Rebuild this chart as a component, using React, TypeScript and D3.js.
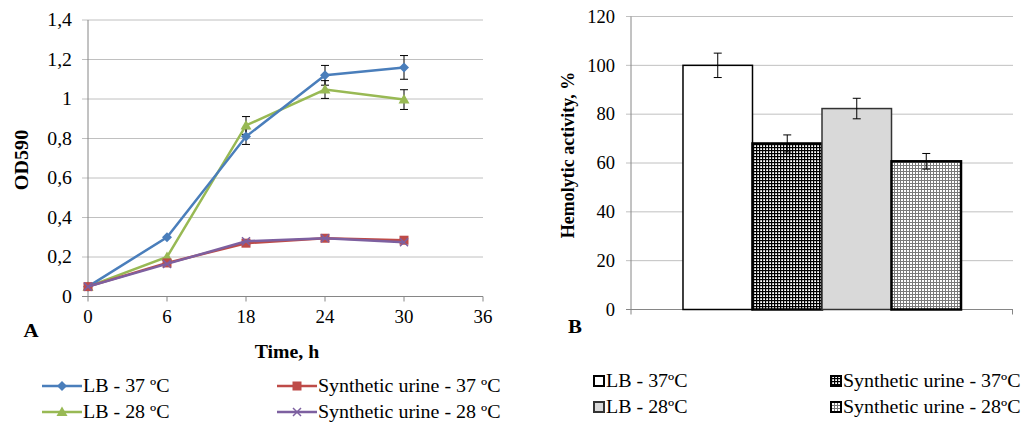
import React from 'react';
import * as d3 from 'd3';

// panel A - growth curves
const timeCats = ['0', '6', '18', '24', '30', '36'];
const odTicks = [0, 0.2, 0.4, 0.6, 0.8, 1, 1.2, 1.4];
const lb37 = [0.05, 0.3, 0.81, 1.12, 1.16];
const lb37Err = [0.01, 0.01, 0.04, 0.05, 0.06];
const lb28 = [0.05, 0.2, 0.866, 1.048, 0.997];
const lb28Err = [0.01, 0.01, 0.045, 0.045, 0.05];
const su37 = [0.05, 0.17, 0.27, 0.295, 0.285];
const su28 = [0.05, 0.165, 0.28, 0.295, 0.275];

// panel B - hemolytic activity
const barNames = ['LB - 37ºC', 'Synthetic urine - 37ºC', 'LB - 28ºC', 'Synthetic urine - 28ºC'];
const barValues = [100, 68, 82.3, 60.7];
const barErr = [5, 3.5, 4.2, 3.2];
const hemoTicks = [0, 20, 40, 60, 80, 100, 120];

const serif = '"Liberation Serif", "Times New Roman", serif';
const gridColor = '#c0c0c0';
const axisColor = '#868686';

const lineSeries = [
  { name: 'LB - 37 ºC', values: lb37, err: lb37Err, color: '#4a7ebb', marker: 'diamond' },
  { name: 'Synthetic urine - 37 ºC', values: su37, err: null, color: '#be4b48', marker: 'square' },
  { name: 'LB - 28 ºC', values: lb28, err: lb28Err, color: '#98b954', marker: 'triangle' },
  { name: 'Synthetic urine - 28 ºC', values: su28, err: null, color: '#7d60a0', marker: 'cross' },
];

const barStyles = [
  { fill: '#ffffff', stroke: '#000', sw: 1.5 },
  { fill: 'url(#gridDark)', stroke: '#000', sw: 2.5 },
  { fill: '#d9d9d9', stroke: '#333', sw: 1.5 },
  { fill: 'url(#gridLight)', stroke: '#000', sw: 2.5 },
];

// the source picture is a bit stretched sideways, so text gets a small x-scale
function T(props: any) {
  const { x, y, sx = 1, rotate = 0, children, ...rest } = props;
  return (
    <text transform={`translate(${x},${y}) rotate(${rotate}) scale(${sx},1)`} {...rest}>{children}</text>
  );
}

function Marker({ type, x, y, color }: { type: string; x: number; y: number; color: string }) {
  if (type === 'diamond') {
    return <path d={`M${x},${y - 5}L${x + 5},${y}L${x},${y + 5}L${x - 5},${y}Z`} fill={color} />;
  }
  if (type === 'square') {
    return <rect x={x - 4.5} y={y - 4.5} width={9} height={9} fill={color} />;
  }
  if (type === 'triangle') {
    return <path d={`M${x},${y - 5.5}L${x + 5.5},${y + 4}L${x - 5.5},${y + 4}Z`} fill={color} />;
  }
  return (
    <path d={`M${x - 4},${y - 4}L${x + 4},${y + 4}M${x - 4},${y + 4}L${x + 4},${y - 4}`}
      stroke={color} strokeWidth={1.5} fill="none" />
  );
}

export default function App() {
  // ---- panel A scales
  const xA = d3.scalePoint<string>().domain(timeCats).range([88, 483]).padding(0);
  const yA = d3.scaleLinear().domain([0, 1.4]).range([296.5, 20]);
  const line = d3.line<number>()
    .x((_, i) => xA(timeCats[i]) as number)
    .y(d => yA(d));

  // ---- panel B scales
  const yB = d3.scaleLinear().domain([0, 120]).range([309.5, 16.5]);
  const outer = d3.scaleBand<string>().domain(['g']).range([631, 1013]).paddingOuter(0.187).paddingInner(0);
  const inner = d3.scaleBand<string>().domain(barNames).range([0, outer.bandwidth()]).padding(0);
  const gx = outer('g') as number;

  return (
    <div style={{ position: 'absolute', left: 0, top: 0 }}>
      <style>{'body{margin:0}'}</style>
      <svg width={1023} height={423} style={{ background: '#fff', display: 'block' }} fontFamily={serif}>
        <defs>
          <pattern id="gridDark" width={3} height={3} patternUnits="userSpaceOnUse">
            <rect width={3} height={3} fill="#fff" />
            <rect width={3} height={1.2} fill="#000" />
            <rect width={1.2} height={3} fill="#000" />
          </pattern>
          <pattern id="gridLight" width={3} height={3} patternUnits="userSpaceOnUse">
            <rect width={3} height={3} fill="#fff" />
            <rect width={3} height={1} fill="#7a7a7a" />
            <rect width={1} height={3} fill="#7a7a7a" />
          </pattern>
        </defs>

        {/* ================= Panel A ================= */}
        {odTicks.map(t => (
          <g key={t}>
            <line x1={82} x2={483} y1={yA(t)} y2={yA(t)} stroke={t === 0 ? axisColor : gridColor} strokeWidth={1} />
            <T x={72} y={yA(t)} sx={1.1} dy="0.35em" textAnchor="end" fontSize={18}>{String(t).replace('.', ',')}</T>
          </g>
        ))}
        <line x1={88} x2={88} y1={yA(1.4)} y2={yA(0)} stroke={axisColor} />
        {timeCats.map(c => (
          <g key={c}>
            <line x1={xA(c)} x2={xA(c)} y1={yA(0)} y2={yA(0) + 5} stroke={axisColor} />
            <T x={xA(c)} y={yA(0) + 26} sx={1.05} textAnchor="middle" fontSize={18}>{c}</T>
          </g>
        ))}
        <T x={31} y={337} sx={1.1} textAnchor="middle" fontSize={19} fontWeight="bold">A</T>
        <T x={287} y={358} sx={1.1} textAnchor="middle" fontSize={18} fontWeight="bold">Time, h</T>
        <T x={28} y={160} rotate={-90} sx={1.12} textAnchor="middle" fontSize={18} fontWeight="bold">OD590</T>

        {/* error bars */}
        {lineSeries.filter(s => s.err).map(s => (
          <g key={s.name + 'err'}>
            {s.values.map((v, i) => {
              const e = (s.err as number[])[i];
              const x = xA(timeCats[i]) as number;
              if (e < 0.02) return null;
              return (
                <g key={i} stroke="#000" strokeWidth={1}>
                  <line x1={x} x2={x} y1={yA(v + e)} y2={yA(v - e)} />
                  <line x1={x - 4} x2={x + 4} y1={yA(v + e)} y2={yA(v + e)} />
                  <line x1={x - 4} x2={x + 4} y1={yA(v - e)} y2={yA(v - e)} />
                </g>
              );
            })}
          </g>
        ))}

        {/* lines + markers */}
        {[lineSeries[2], lineSeries[0], lineSeries[1], lineSeries[3]].map(s => (
          <g key={s.name}>
            <path d={line(s.values) as string} fill="none" stroke={s.color} strokeWidth={2.5} />
            {s.values.map((v, i) => (
              <Marker key={i} type={s.marker} x={xA(timeCats[i]) as number} y={yA(v)} color={s.color} />
            ))}
          </g>
        ))}

        {/* legend A */}
        {lineSeries.map((s, i) => {
          const lx = i % 2 === 0 ? 42 : 277;
          const ly = i < 2 ? 386 : 412;
          return (
            <g key={s.name + 'leg'}>
              <line x1={lx} x2={lx + 40} y1={ly} y2={ly} stroke={s.color} strokeWidth={2.5} />
              <Marker type={s.marker} x={lx + 20} y={ly} color={s.color} />
              <T x={lx + 41} y={ly} sx={1.11} dy="0.35em" fontSize={18}>{s.name}</T>
            </g>
          );
        })}

        {/* ================= Panel B ================= */}
        {hemoTicks.map(t => (
          <g key={t}>
            <line x1={626} x2={1013} y1={yB(t)} y2={yB(t)} stroke={t === 0 ? axisColor : gridColor} strokeWidth={1} />
            <T x={615} y={yB(t)} sx={1.03} dy="0.35em" textAnchor="end" fontSize={18}>{t}</T>
          </g>
        ))}
        <line x1={631} x2={631} y1={yB(120)} y2={yB(0)} stroke={axisColor} />
        <line x1={631} x2={631} y1={yB(0)} y2={yB(0) + 5} stroke={axisColor} />
        <line x1={1012.5} x2={1012.5} y1={yB(0)} y2={yB(0) + 5} stroke={axisColor} />
        <T x={575} y={333} sx={1.1} textAnchor="middle" fontSize={19} fontWeight="bold">B</T>
        <T x={574} y={155} rotate={-90} textAnchor="middle" fontSize={18} fontWeight="bold">Hemolytic activity, %</T>

        {barNames.map((n, i) => {
          const x = gx + (inner(n) as number);
          const w = inner.bandwidth();
          const st = barStyles[i];
          const v = barValues[i];
          const e = barErr[i];
          const cx = x + w / 2;
          return (
            <g key={n}>
              <rect x={x} y={yB(v)} width={w} height={yB(0) - yB(v)} fill={st.fill} stroke={st.stroke} strokeWidth={st.sw} />
              <g stroke="#000" strokeWidth={1}>
                <line x1={cx} x2={cx} y1={yB(v + e)} y2={yB(v - e)} />
                <line x1={cx - 4} x2={cx + 4} y1={yB(v + e)} y2={yB(v + e)} />
                <line x1={cx - 4} x2={cx + 4} y1={yB(v - e)} y2={yB(v - e)} />
              </g>
            </g>
          );
        })}

        {/* legend B */}
        {barNames.map((n, k) => {
          const lx = k % 2 === 0 ? 594 : 831;
          const ly = k < 2 ? 381 : 407;
          const st = barStyles[k];
          return (
            <g key={'legB' + k}>
              <rect x={lx} y={ly - 5} width={10} height={10} fill={st.fill} stroke={st.stroke} strokeWidth={2} />
              <T x={lx + 12} y={ly} sx={1.11} dy="0.35em" fontSize={18}>{n}</T>
            </g>
          );
        })}
      </svg>
    </div>
  );
}
